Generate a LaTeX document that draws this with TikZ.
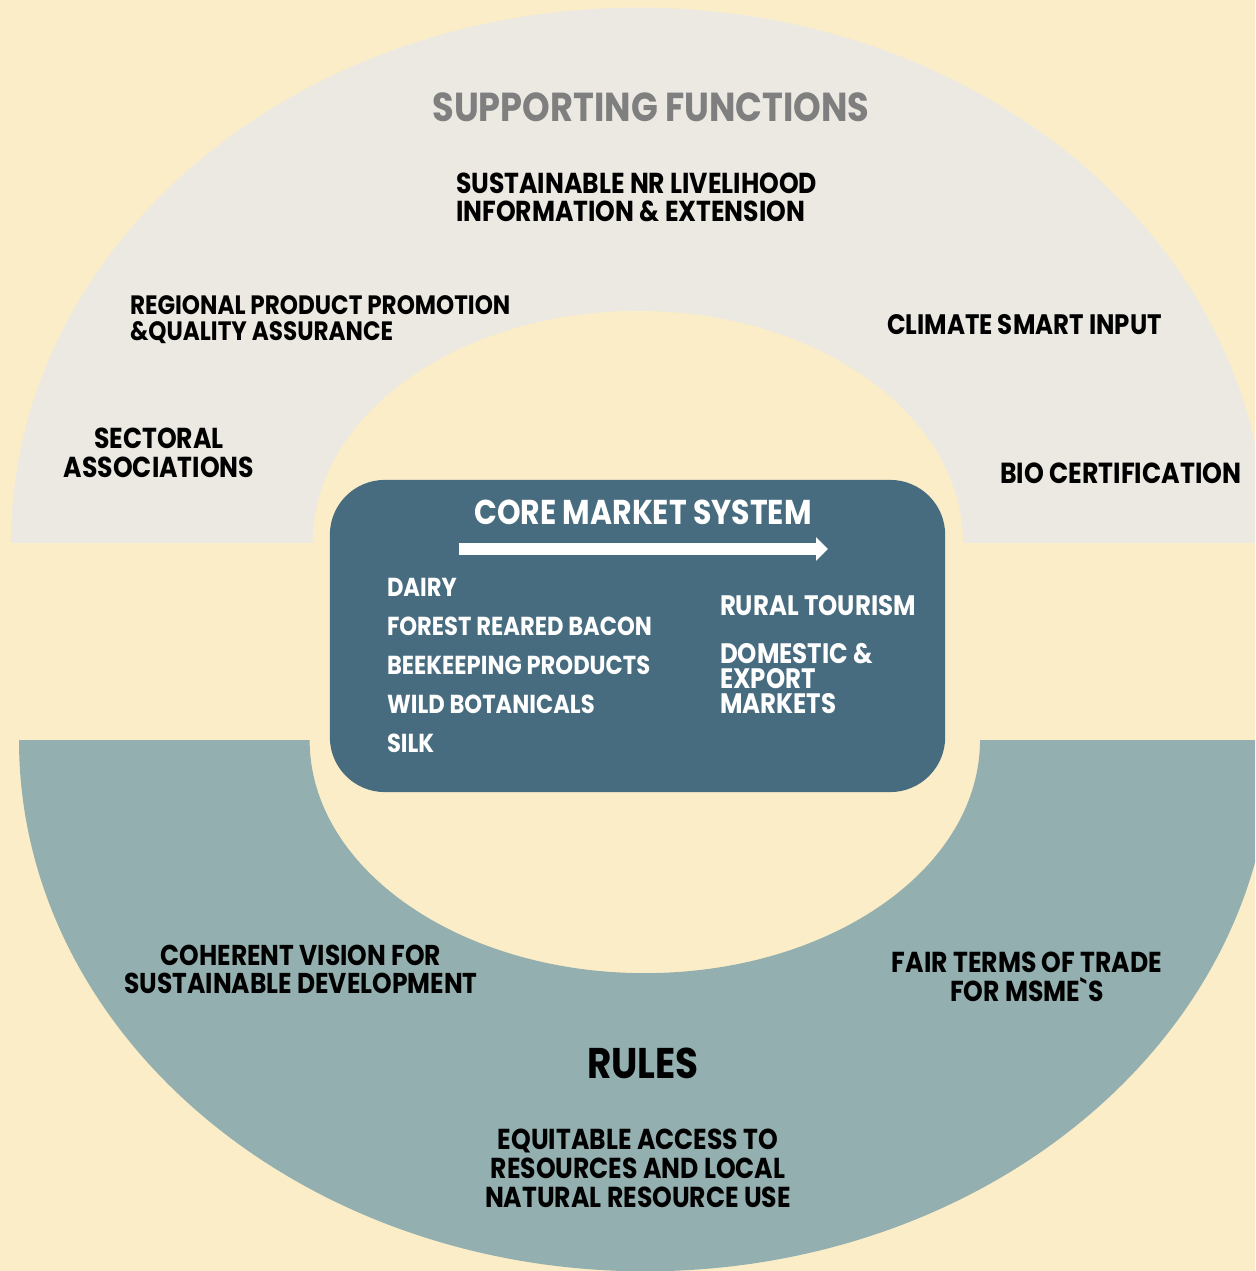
\documentclass[tikz,border=0pt]{standalone}
\usepackage{fontspec}
\setmainfont{Poppins}[FakeStretch=0.87]
\usetikzlibrary{arrows.meta}
\definecolor{cream}{HTML}{FAEDC7}
\definecolor{supgray}{HTML}{ECE9E2}
\definecolor{rulesteal}{HTML}{93AFAF}
\definecolor{corebg}{HTML}{476C80}
\definecolor{titlegray}{HTML}{7F7F7F}
\newcommand{\fsz}[2]{\fontsize{#1pt}{#2pt}\selectfont\bfseries}
\begin{document}
\begin{tikzpicture}[x=0.01cm,y=0.01cm,
  lbl/.style={inner sep=0pt, outer sep=0pt, text=black},
  wlbl/.style={inner sep=0pt, outer sep=0pt, text=white},
  corebox/.style={fill=corebg, draw=none, rounded corners=0.55cm, minimum width=6.15cm, minimum height=3.12cm, inner sep=0pt}]
\useasboundingbox (0,0) rectangle (1255,-1271);
\clip (0,0) rectangle (1255,-1271);
\fill[cream] (0,0) rectangle (1255,-1271);
% supporting functions arc
\fill[supgray] (11,-543) arc[start angle=180, end angle=0, x radius=6.27cm, y radius=5.35cm]
  -- (963,-543) arc[start angle=0, end angle=180, x radius=3.25cm, y radius=2.32cm] -- cycle;
% rules arc
\fill[rulesteal] (19,-740) arc[start angle=180, end angle=360, x radius=6.26cm, y radius=5.31cm]
  -- (980,-740) arc[start angle=360, end angle=180, x radius=3.35cm, y radius=2.33cm] -- cycle;
% core box
\node[corebox] (core) at (637.5,-636) {};
\coordinate (arrS) at (459,-549);
\coordinate (arrE) at (828,-549);
\draw[white, line width=0.12cm, -{Triangle[length=0.12cm, width=0.23cm]}] (arrS) -- (arrE);

% supporting functions texts
\node[lbl, text=titlegray, anchor=north, font={\fsz{11.5}{14}}] (sf) at (651,-93) {SUPPORTING FUNCTIONS};
\node[lbl, anchor=north west, align=left, font={\fsz{8.2}{7.97}}] (nr) at (456,-173) {SUSTAINABLE NR LIVELIHOOD\\INFORMATION \& EXTENSION};
\node[lbl, anchor=north west, align=left, font={\fsz{7.55}{7.2}}] (reg) at (130,-296) {REGIONAL PRODUCT PROMOTION\\\&QUALITY ASSURANCE};
\node[lbl, anchor=north west, font={\fsz{8.0}{9}}] (csi) at (887,-314) {CLIMATE SMART INPUT};
\node[lbl, anchor=north, align=center, font={\fsz{8.2}{8.2}}] (sect) at (159,-428) {SECTORAL\\ASSOCIATIONS};
\node[lbl, anchor=north west, font={\fsz{8.25}{9}}] (bio) at (1000,-463) {BIO CERTIFICATION};

% core market texts
\node[wlbl, anchor=north, font={\fsz{9.8}{12}}] (cms) at (643,-500) {CORE MARKET SYSTEM};
\node[wlbl, anchor=north west, align=left, font={\fsz{7.4}{11.1}}] (prod) at (387,-578) {DAIRY\\FOREST REARED BACON\\BEEKEEPING PRODUCTS\\WILD BOTANICALS\\SILK};
\node[wlbl, anchor=north west, font={\fsz{8.0}{9}}] (tour) at (720,-595) {RURAL TOURISM};
\node[wlbl, anchor=north west, align=left, font={\fsz{8.0}{7.1}}] (mkts) at (720,-643) {DOMESTIC \&\\EXPORT\\MARKETS};

% rules texts
\node[lbl, anchor=north, align=center, font={\fsz{8.15}{8.0}}] (coh) at (301,-945) {COHERENT VISION FOR\\SUSTAINABLE DEVELOPMENT};
\node[lbl, anchor=north, align=center, font={\fsz{8.2}{8.25}}] (fair) at (1027,-952) {FAIR TERMS OF TRADE\\FOR MSME\textasciigrave S};
\node[lbl, anchor=north, font={\fsz{12.2}{14}}] (rules) at (643,-1048) {RULES};
\node[lbl, anchor=north, align=center, font={\fsz{8.2}{8.25}}] (eq) at (638,-1129) {EQUITABLE ACCESS TO\\RESOURCES AND LOCAL\\NATURAL RESOURCE USE};
\end{tikzpicture}
\end{document}
